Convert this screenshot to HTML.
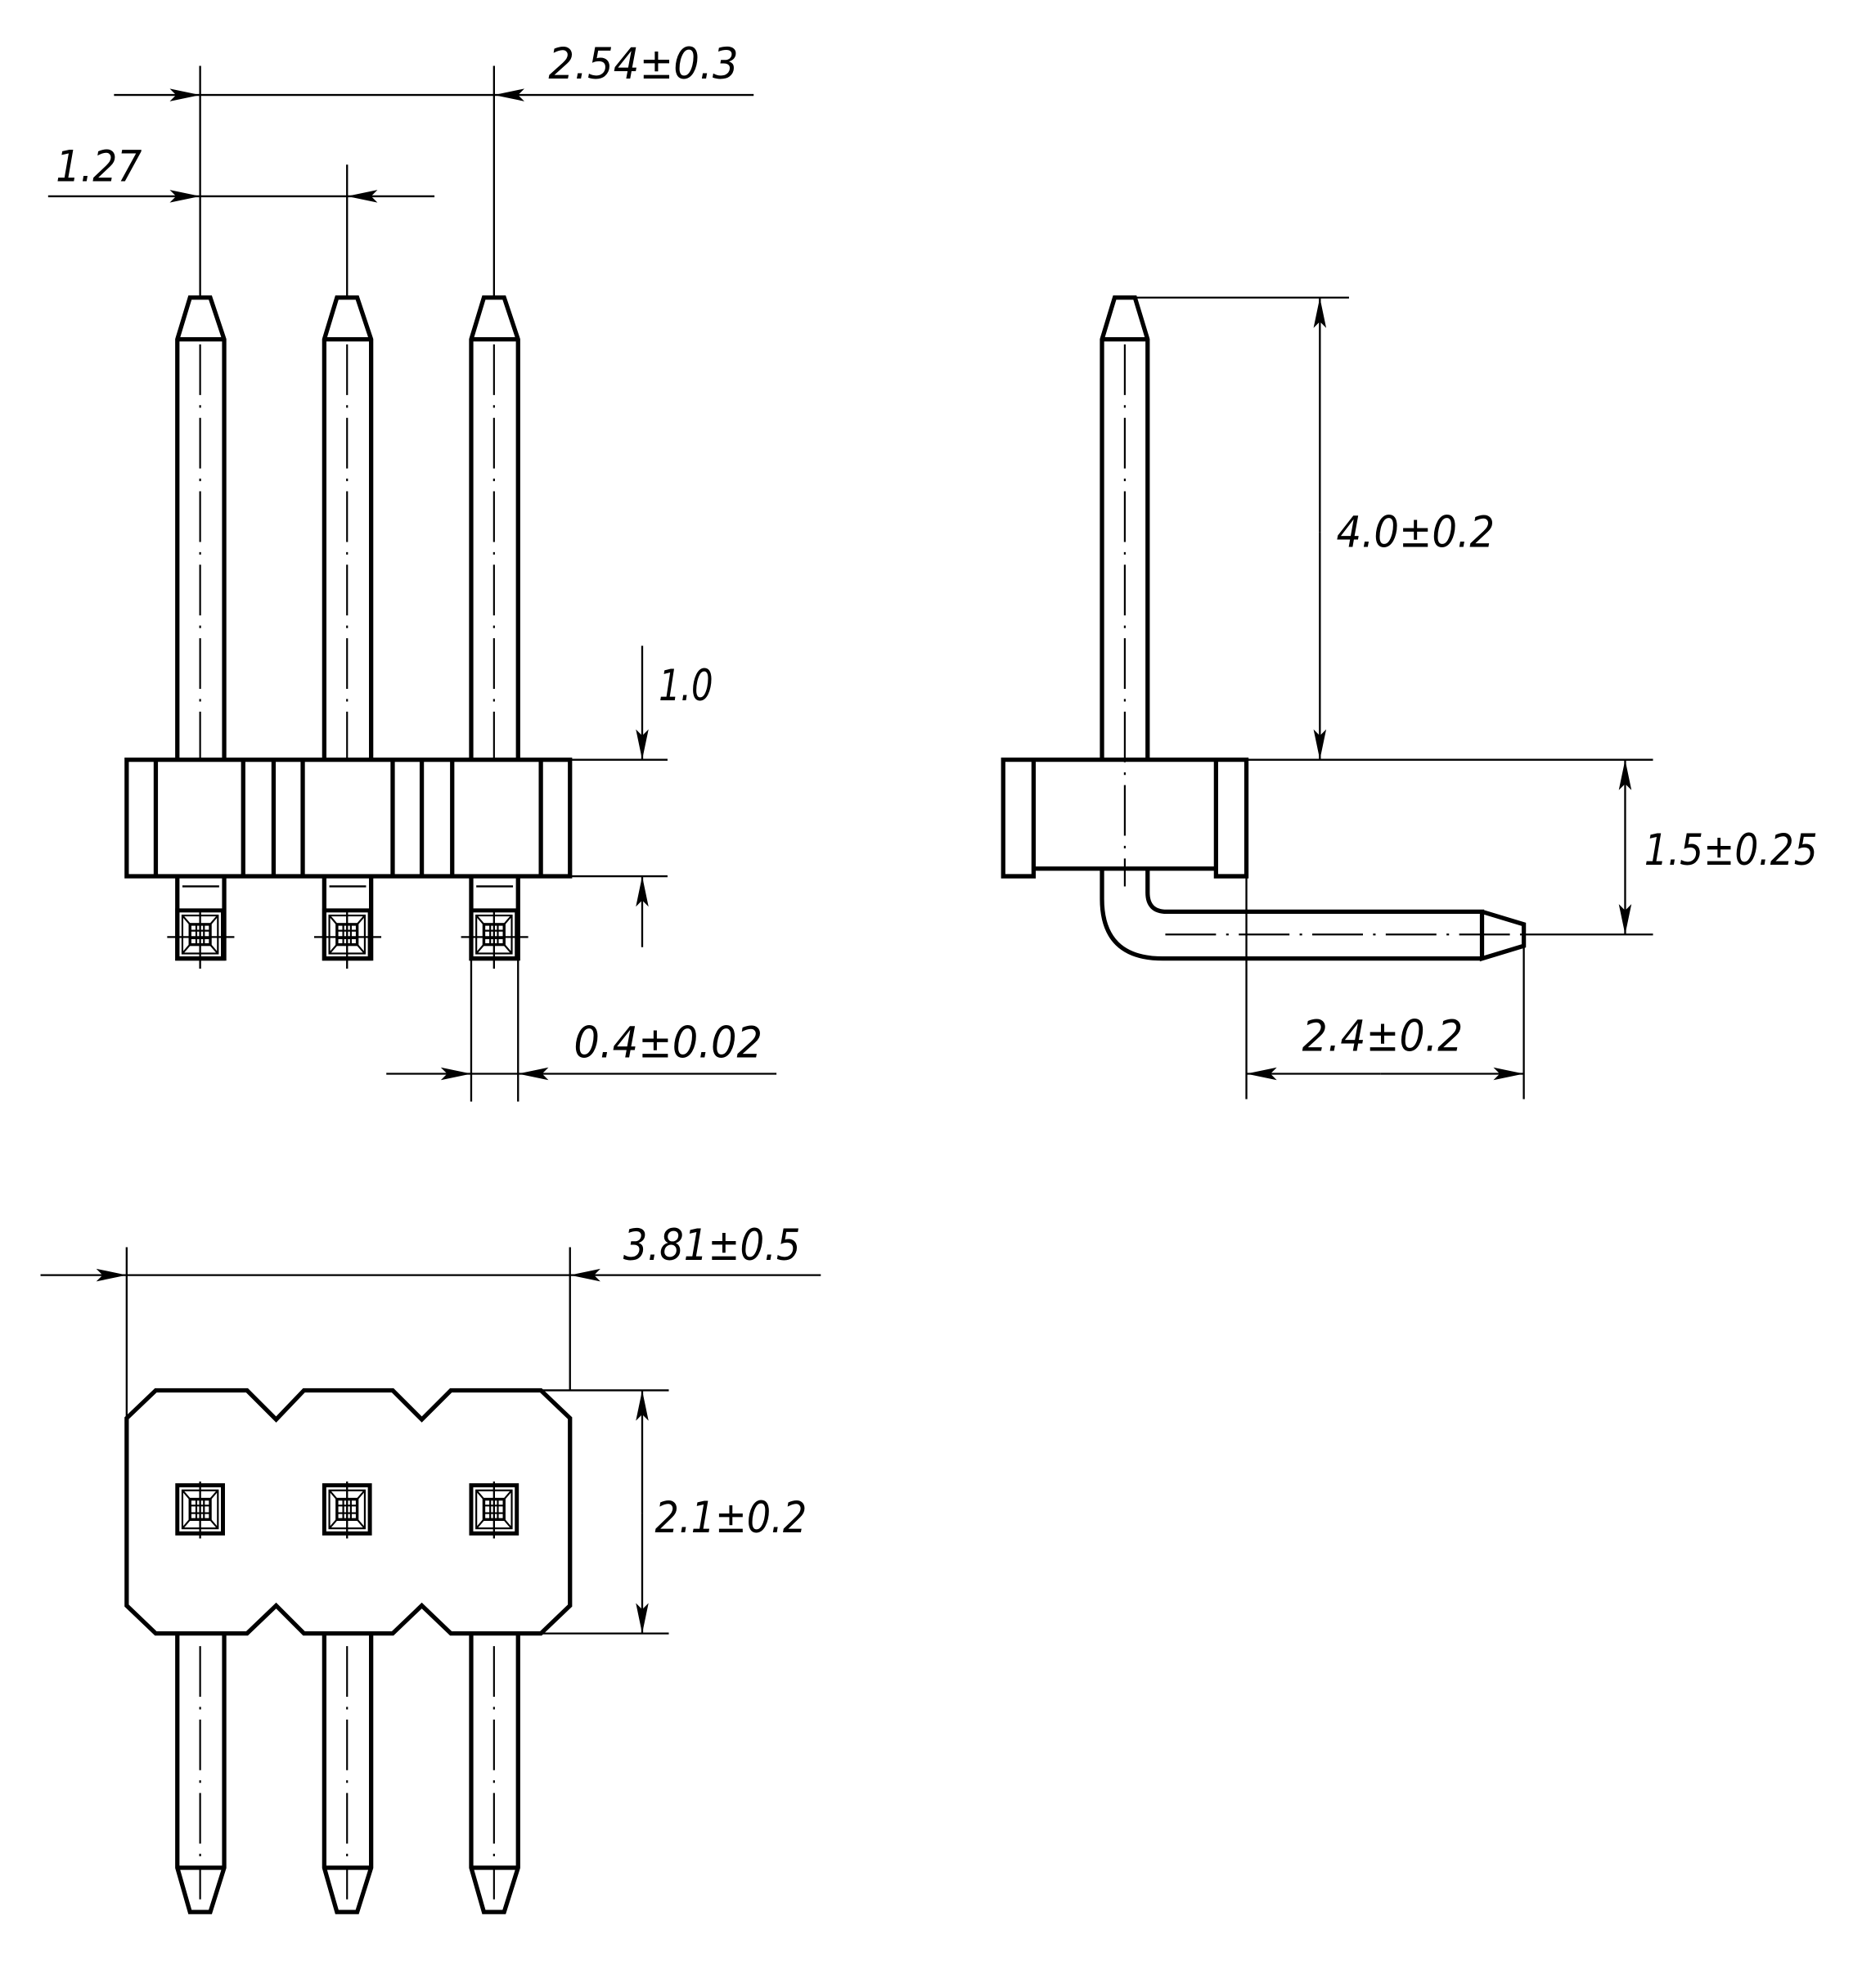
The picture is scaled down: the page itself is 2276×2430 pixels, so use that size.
<!DOCTYPE html>
<html><head><meta charset="utf-8"><style>
html,body{margin:0;padding:0;background:#fff}
svg{display:block}
text{font-family:"DejaVu Sans","Liberation Sans",sans-serif;font-style:italic;font-size:34px;fill:#000}
</style></head><body>
<svg width="2276" height="2430" viewBox="0 0 1470 1570" preserveAspectRatio="none" xmlns="http://www.w3.org/2000/svg">
<defs>
<marker id="a" viewBox="-26 -7 28 14" refX="0" refY="0" markerWidth="28" markerHeight="14" markerUnits="userSpaceOnUse" orient="auto">
<path d="M-24,-5 L0,0 L-24,5 L-19,0 Z" fill="#000"/>
</marker>
<g id="sq">
<rect x="-18" y="-19" width="36" height="38" fill="none" stroke="#000" stroke-width="3.2"/>
<rect x="-14" y="-15" width="28" height="30" fill="none" stroke="#000" stroke-width="1.4"/>
<rect x="-8" y="-8" width="16" height="16" fill="none" stroke="#000" stroke-width="2.2"/>
<path d="M-14,-15 L-8,-8 M14,-15 L8,-8 M-14,15 L-8,8 M14,15 L8,8 M-3,-8 V8 M3,-8 V8 M-8,-3 H8 M-8,3 H8" stroke="#000" stroke-width="1.4" fill="none"/>
</g>
</defs>
<g fill="none" stroke="#000" stroke-width="3.4" stroke-linejoin="miter">
<path d="M140,600 V268 L150,235 H166 L177,268 V600 M140,268 H177"/>
<path d="M256,600 V268 L266,235 H282 L293,268 V600 M256,268 H293"/>
<path d="M372,600 V268 L382,235 H398 L409,268 V600 M372,268 H409"/>
<rect x="100" y="600" width="350" height="92"/>
<path d="M123,600 V692 M192,600 V692 M216,600 V692 M239,600 V692 M310,600 V692 M333,600 V692 M357,600 V692 M427,600 V692"/>
<path d="M140,692 V757 H177 V692 M256,692 V757 H293 V692 M372,692 V757 H409 V692"/>
<path d="M870,600 V268 L880,235 H896 L906,268 V600 M870,268 H906"/>
<path d="M792,600 H984 V692 H960 V686 H816 V692 H792 Z M816,600 V686 M960,600 V686"/>
<path d="M870,686 V710 Q870,757 918,757 H1170 M906,686 V705 Q906,720 921,720 H1170 V757 L1203,747 V730 L1170,720"/>
<path d="M100,1120 L123,1098 H195 L218,1121 L240,1098 H310 L333,1121 L356,1098 H427 L450,1120 V1268 L427,1290 H356 L333,1268 L310,1290 H240 L218,1268 L195,1290 H123 L100,1268 Z"/>
<path d="M140,1290 V1475 L150,1510 H166 L177,1475 V1290 M140,1475 H177"/>
<path d="M256,1290 V1475 L266,1510 H282 L293,1475 V1290 M256,1475 H293"/>
<path d="M372,1290 V1475 L382,1510 H398 L409,1475 V1290 M372,1475 H409"/>
</g>
<g>
<use href="#sq" x="158" y="738"/><use href="#sq" x="274" y="738"/><use href="#sq" x="390" y="738"/>
<use href="#sq" x="158" y="1192"/><use href="#sq" x="274" y="1192"/><use href="#sq" x="390" y="1192"/>
</g>
<g fill="none" stroke="#000" stroke-width="1.5">
<path d="M144,700 H173 M260,700 H289 M376,700 H405"/>
<path d="M132,740 H185 M248,740 H301 M364,740 H417"/>
<path d="M158,52 V235 M390,52 V235 M274,130 V235"/>
<path d="M158,155 H274 M158,75 H390"/>
<path d="M450,600 H527 M450,692 H527"/>
<path d="M372,757 V870 M409,757 V870 M372,848 H409"/>
<path d="M880,235 H1065 M984,600 H1305 M1203,738 H1305 M984,692 V868 M1203,738 V868"/>
<path d="M100,1120 V985 M450,985 V1098 M100,1007 H450"/>
<path d="M427,1098 H528 M427,1290 H528"/>
<path d="M158,720 V765 M274,720 V765 M390,720 V765 M158,1170 V1215 M274,1170 V1215 M390,1170 V1215"/>
</g>
<g fill="none" stroke="#000" stroke-width="1.4" stroke-dasharray="40,8,2,8">
<path d="M158,272 V600 M274,272 V600 M390,272 V600"/>
<path d="M888,272 V700 M920,738 H1205"/>
<path d="M158,1300 V1500 M274,1300 V1500 M390,1300 V1500"/>
</g>
<g fill="none" stroke="#000" stroke-width="1.5" marker-end="url(#a)">
<path d="M90,75 H158"/><path d="M595,75 H390"/>
<path d="M38,155 H158"/><path d="M343,155 H274"/>
<path d="M507,510 V600"/><path d="M507,748 V692"/>
<path d="M305,848 H372"/><path d="M613,848 H409"/>
<path d="M1042,420 V235"/><path d="M1042,420 V600"/>
<path d="M1283,670 V600"/><path d="M1283,670 V738"/>
<path d="M1090,848 H984"/><path d="M1090,848 H1203"/>
<path d="M32,1007 H100"/><path d="M648,1007 H450"/>
<path d="M507,1195 V1098"/><path d="M507,1195 V1290"/>
</g>
<text x="433" y="62" textLength="150" lengthAdjust="spacingAndGlyphs">2.54±0.3</text>
<text x="44" y="143" textLength="68" lengthAdjust="spacingAndGlyphs">1.27</text>
<text x="520" y="553" textLength="43" lengthAdjust="spacingAndGlyphs">1.0</text>
<text x="453" y="835" textLength="149" lengthAdjust="spacingAndGlyphs">0.4±0.02</text>
<text x="1055" y="432" textLength="125" lengthAdjust="spacingAndGlyphs">4.0±0.2</text>
<text x="1298" y="683" textLength="137" lengthAdjust="spacingAndGlyphs">1.5±0.25</text>
<text x="1028" y="830" textLength="127" lengthAdjust="spacingAndGlyphs">2.4±0.2</text>
<text x="492" y="995" textLength="140" lengthAdjust="spacingAndGlyphs">3.81±0.5</text>
<text x="517" y="1210" textLength="120" lengthAdjust="spacingAndGlyphs">2.1±0.2</text>
</svg>
</body></html>
